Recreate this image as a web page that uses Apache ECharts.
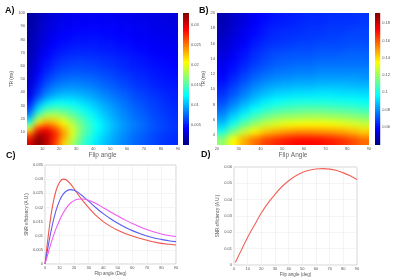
<!DOCTYPE html>
<html>
<head>
<meta charset="utf-8">
<script src="https://cdn.jsdelivr.net/npm/echarts@6/dist/echarts.min.js"></script>
<style>
html, body { margin: 0; padding: 0; background: #fff; }
#wrap { position: relative; width: 393px; height: 279px; overflow: hidden; background: #fff; }
#heat { position: absolute; left: 0; top: 0; width: 393px; height: 279px; filter: blur(3px);
        clip-path: path('M27 13 H178 V145 H27 Z M217 13 H369 V145 H217 Z'); }
#main { position: absolute; left: 0; top: 0; width: 393px; height: 279px; }
</style>
</head>
<body>
<div id="wrap">
  <div id="heat"></div>
  <div id="main"></div>
</div>
<script>
// panel A : flip angle (deg) x TR (ms), values in 1/1000
var flipA = [2.5, 7.5, 12.5, 17.5, 22.5, 27.5, 32.5, 37.5, 42.5, 47.5, 52.5, 57.5, 62.5, 67.5, 72.5, 77.5, 82.5, 87.5];
var trA = [2.5, 7.5, 12.5, 17.5, 22.5, 27.5, 32.5, 37.5, 42.5, 47.5, 52.5, 57.5, 62.5, 67.5, 72.5, 77.5, 82.5, 87.5, 92.5, 97.5];
var snrA = [
  [30, 33, 31, 27, 22, 18, 15, 13, 11.5, 10.3, 9.3, 8.5, 7.8, 7.2, 6.7, 6.2, 5.8, 5.5],
  [27, 32, 31, 28, 24, 19.5, 16, 13.8, 12, 10.7, 9.6, 8.7, 7.9, 7.3, 6.8, 6.3, 5.9, 5.6],
  [20, 28, 29, 26.5, 23, 19.5, 16.5, 14.3, 12.5, 11.2, 10, 9.1, 8.3, 7.7, 7.1, 6.6, 6.2, 5.8],
  [13, 21, 23.5, 22.5, 20.5, 18, 15.8, 14, 12.4, 11.1, 10, 9.1, 8.3, 7.7, 7.1, 6.6, 6.2, 5.8],
  [9, 15.5, 18.5, 18.5, 17.5, 16, 14.5, 13, 11.7, 10.5, 9.5, 8.7, 8, 7.4, 6.9, 6.4, 6, 5.6],
  [6.5, 11.5, 14.5, 15.2, 14.8, 14, 13, 11.9, 10.9, 9.9, 9.1, 8.4, 7.7, 7.1, 6.6, 6.2, 5.8, 5.5],
  [5, 9, 11.5, 12.5, 12.6, 12.2, 11.6, 10.9, 10.1, 9.3, 8.6, 7.9, 7.3, 6.8, 6.4, 6, 5.6, 5.3],
  [3.4, 6.5, 8.8, 10, 10.5, 10.5, 10.2, 9.7, 9.1, 8.5, 7.9, 7.4, 6.9, 6.4, 6, 5.7, 5.4, 5.1],
  [2.9, 5.6, 7.6, 8.7, 9.2, 9.3, 9.1, 8.8, 8.3, 7.8, 7.3, 6.9, 6.4, 6, 5.7, 5.4, 5.1, 4.9],
  [2.5, 4.9, 6.6, 7.6, 8.1, 8.3, 8.2, 8, 7.6, 7.2, 6.8, 6.4, 6, 5.7, 5.4, 5.1, 4.9, 4.7],
  [2.2, 4.3, 5.8, 6.7, 7.2, 7.4, 7.4, 7.2, 7, 6.7, 6.3, 6, 5.7, 5.4, 5.1, 4.9, 4.7, 4.5],
  [2, 3.8, 5.1, 6, 6.5, 6.7, 6.7, 6.6, 6.4, 6.2, 5.9, 5.6, 5.3, 5.1, 4.9, 4.7, 4.5, 4.3],
  [1.8, 3.4, 4.6, 5.4, 5.9, 6.1, 6.2, 6.1, 5.9, 5.7, 5.5, 5.3, 5, 4.8, 4.6, 4.4, 4.3, 4.1],
  [1.6, 3.1, 4.2, 4.9, 5.4, 5.6, 5.7, 5.6, 5.5, 5.4, 5.2, 5, 4.8, 4.6, 4.4, 4.2, 4.1, 3.9],
  [1.5, 2.8, 3.8, 4.5, 4.9, 5.1, 5.2, 5.2, 5.1, 5, 4.8, 4.7, 4.5, 4.3, 4.2, 4, 3.9, 3.8],
  [1.4, 2.6, 3.5, 4.1, 4.5, 4.7, 4.8, 4.8, 4.8, 4.7, 4.6, 4.4, 4.3, 4.1, 4, 3.8, 3.7, 3.6],
  [1.3, 2.4, 3.2, 3.8, 4.2, 4.4, 4.5, 4.5, 4.5, 4.4, 4.3, 4.2, 4.1, 3.9, 3.8, 3.7, 3.6, 3.5],
  [1.2, 2.2, 3, 3.5, 3.9, 4.1, 4.2, 4.2, 4.2, 4.2, 4.1, 4, 3.9, 3.8, 3.7, 3.5, 3.4, 3.3],
  [1.1, 2, 2.8, 3.3, 3.6, 3.8, 3.9, 4, 4, 3.9, 3.9, 3.8, 3.7, 3.6, 3.5, 3.4, 3.3, 3.2],
  [1, 1.9, 2.6, 3.1, 3.4, 3.6, 3.7, 3.8, 3.8, 3.7, 3.7, 3.6, 3.5, 3.4, 3.3, 3.2, 3.1, 3]
];

// panel B : flip angle (deg) x TR (ms), values in 1/1000
var flipB = [22.5, 27.5, 32.5, 37.5, 42.5, 47.5, 52.5, 57.5, 62.5, 67.5, 72.5, 77.5, 82.5, 87.5];
var trB = [3.5, 4.5, 5.5, 6.5, 7.5, 8.5, 9.5, 10.5, 11.5, 12.5, 13.5, 14.5, 15.5, 16.5, 17.5, 18.5, 19.5];
var snrB = [
  [118, 135, 147, 156, 163, 167, 170, 172, 172, 171, 169, 166, 162, 157],
  [100, 115, 127, 136, 143, 147, 150, 152, 152, 151, 150, 148, 145, 141],
  [88, 100, 111, 120, 126, 130, 133, 134, 135, 135, 134, 132, 130, 127],
  [80, 90, 99, 107, 113, 117, 119, 120, 121, 121, 120, 119, 117, 115],
  [74, 82, 90, 97, 102, 106, 108, 109, 110, 110, 109, 108, 107, 105],
  [69, 76, 83, 89, 94, 97, 99, 100, 100, 100, 100, 99, 98, 97],
  [65, 71, 77, 83, 87, 90, 91, 92, 92, 93, 93, 92, 92, 91],
  [62, 67, 73, 78, 82, 84, 85, 86, 86, 87, 87, 87, 86, 86],
  [59, 64, 69, 74, 77, 79, 80, 81, 81, 82, 82, 82, 82, 81],
  [57, 61, 66, 70, 73, 75, 76, 77, 77, 78, 78, 78, 78, 78],
  [55, 59, 63, 67, 70, 72, 73, 74, 74, 75, 75, 75, 75, 75],
  [53, 57, 61, 65, 68, 70, 71, 71, 71, 72, 72, 73, 73, 73],
  [51, 55, 59, 63, 66, 67, 68, 69, 69, 70, 70, 70, 71, 71],
  [50, 54, 57, 61, 64, 65, 66, 67, 67, 68, 68, 69, 69, 69],
  [48, 52, 56, 59, 62, 64, 65, 65, 66, 66, 67, 67, 68, 68],
  [47, 51, 54, 58, 61, 62, 63, 64, 65, 65, 66, 66, 66, 67],
  [46, 50, 53, 57, 59, 61, 62, 63, 64, 64, 65, 65, 65, 66]
];

// colour bar ranges and tick labels
var cbA = [0, 0.033];
var cbB = [0.039, 0.192];
var cbTicksA = [0.005, 0.01, 0.015, 0.02, 0.025, 0.03];
var cbTicksB = [0.06, 0.08, 0.1, 0.12, 0.14, 0.16, 0.18];
var xTicksA = [10, 20, 30, 40, 50, 60, 70, 80, 90];
var yTicksA = [10, 20, 30, 40, 50, 60, 70, 80, 90, 100];
var yTicksB = [4, 6, 8, 10, 12, 14, 16, 18, 20];

// panel C : three curves
var flipC = [0, 2.5, 5, 7.5, 10, 12.5, 15, 17.5, 20, 22.5, 25, 27.5, 30, 35, 40, 45, 50, 55, 60, 65, 70, 75, 80, 85, 90];
var snrRed = [0, 0.0110, 0.0200, 0.0258, 0.0289, 0.0300, 0.0296, 0.0283, 0.0266, 0.0248, 0.0230, 0.0214, 0.0199, 0.0172, 0.0150, 0.0133, 0.0119, 0.0108, 0.0099, 0.0091, 0.0084, 0.0078, 0.0073, 0.0070, 0.0067];
var snrBlue = [0, 0.0072, 0.0137, 0.0188, 0.0224, 0.0247, 0.0259, 0.0263, 0.0261, 0.0254, 0.0244, 0.0233, 0.0222, 0.0199, 0.0178, 0.0160, 0.0144, 0.0130, 0.0118, 0.0108, 0.0099, 0.0092, 0.0087, 0.0082, 0.0079];
var snrMag = [0, 0.0045, 0.0087, 0.0124, 0.0155, 0.0180, 0.0200, 0.0215, 0.0224, 0.0229, 0.0230, 0.0229, 0.0225, 0.0214, 0.0199, 0.0184, 0.0170, 0.0156, 0.0143, 0.0132, 0.0122, 0.0113, 0.0106, 0.0101, 0.0097];

// panel D : one curve
var flipD = [1, 5, 10, 15, 20, 25, 30, 35, 40, 45, 50, 55, 60, 65, 70, 75, 80, 85, 90];
var snrD = [0.0015, 0.0085, 0.0170, 0.0245, 0.0318, 0.0380, 0.0433, 0.0479, 0.0516, 0.0545, 0.0567, 0.0580, 0.0588, 0.0590, 0.0587, 0.0578, 0.0564, 0.0546, 0.0523];

var jet = ['#00007f', '#0000ff', '#007fff', '#00ffff', '#7fff7f', '#ffff00', '#ff7f00', '#ff0000', '#7f0000'];
var jetStops = jet.map(function (c, i) { return { offset: i / (jet.length - 1), color: c }; });

var gA = { left: 27, top: 13, width: 151, height: 132 };
var gB = { left: 217, top: 13, width: 152, height: 132 };
var FONT = '"Liberation Sans", Arial, sans-serif';

function cells(xs, ys, rows) {
  var out = [];
  for (var j = 0; j < ys.length; j++) {
    for (var i = 0; i < xs.length; i++) {
      out.push([xs[i], ys[j], rows[j][i] / 1000]);
    }
  }
  return out;
}

function cellRenderer(xs, ys) {
  var dx = xs[1] - xs[0], dy = ys[1] - ys[0], pad = 14;
  return function (params, api) {
    var x = api.value(0), y = api.value(1);
    var a = api.coord([x - dx / 2, y + dy / 2]);
    var b = api.coord([x + dx / 2, y - dy / 2]);
    var l = a[0], t = a[1], r = b[0], bt = b[1];
    if (x === xs[0]) l -= pad;
    if (x === xs[xs.length - 1]) r += pad;
    if (y === ys[0]) bt += pad;
    if (y === ys[ys.length - 1]) t -= pad;
    return {
      type: 'rect',
      shape: { x: l, y: t, width: r - l + 0.6, height: bt - t + 0.6 },
      style: { fill: api.visual('color') }
    };
  };
}

// heat maps (blurred layer)
var heat = echarts.init(document.getElementById('heat'), null, { renderer: 'canvas' });
heat.setOption({
  animation: false,
  grid: [gA, gB],
  xAxis: [
    { gridIndex: 0, type: 'value', min: 1, max: 90, show: false },
    { gridIndex: 1, type: 'value', min: 20, max: 90, show: false }
  ],
  yAxis: [
    { gridIndex: 0, type: 'value', min: 0, max: 100, show: false },
    { gridIndex: 1, type: 'value', min: 2.7, max: 20, show: false }
  ],
  visualMap: [
    { type: 'continuous', show: false, seriesIndex: 0, dimension: 2, min: cbA[0], max: cbA[1], inRange: { color: jet } },
    { type: 'continuous', show: false, seriesIndex: 1, dimension: 2, min: cbB[0], max: cbB[1], inRange: { color: jet } }
  ],
  series: [
    { type: 'custom', xAxisIndex: 0, yAxisIndex: 0, clip: false, silent: true,
      data: cells(flipA, trA, snrA), renderItem: cellRenderer(flipA, trA) },
    { type: 'custom', xAxisIndex: 1, yAxisIndex: 1, clip: false, silent: true,
      data: cells(flipB, trB, snrB), renderItem: cellRenderer(flipB, trB) }
  ]
});

// axes, colour bars, curves
var lbl = { fontSize: 4, color: '#555', fontFamily: FONT, margin: 2 };
var nameStyle = { fontSize: 6.5, color: '#666', fontFamily: FONT };
var smallName = { fontSize: 4.5, color: '#555', fontFamily: FONT };
var noLine = { show: false };

function colorBar(idx, range) {
  return {
    type: 'custom', xAxisIndex: idx, yAxisIndex: idx, silent: true,
    data: [[0, range[0], range[1]]],
    encode: { x: 0, y: [1, 2] },
    renderItem: function (params, api) {
      var top = api.coord([0, api.value(2)]);
      var bot = api.coord([0, api.value(1)]);
      var cs = params.coordSys;
      return {
        type: 'rect',
        shape: { x: cs.x, y: top[1], width: cs.width, height: bot[1] - top[1] },
        style: { fill: new echarts.graphic.LinearGradient(0, 1, 0, 0, jetStops) }
      };
    }
  };
}

function lineSeries(idx, xs, ys, color) {
  return {
    type: 'line', xAxisIndex: idx, yAxisIndex: idx, showSymbol: false, smooth: 0.3,
    lineStyle: { color: color, width: 1.1 }, itemStyle: { color: color },
    data: xs.map(function (a, i) { return [a, ys[i]]; })
  };
}

var chart = echarts.init(document.getElementById('main'), null, { renderer: 'canvas' });
var option = {
  animation: false,
  backgroundColor: 'transparent',
  grid: [
    gA,
    gB,
    { left: 45, top: 165, width: 131, height: 99, show: true, borderColor: '#bbb', borderWidth: 0.6 },
    { left: 234, top: 167, width: 123, height: 98, show: true, borderColor: '#bbb', borderWidth: 0.6 },
    { left: 183, top: 13, width: 6, height: 132 },
    { left: 375, top: 13, width: 6, height: 132 }
  ],
  xAxis: [
    { gridIndex: 0, type: 'value', min: 1, max: 90, axisLine: noLine, axisTick: noLine, splitLine: noLine,
      axisLabel: Object.assign({ customValues: xTicksA }, lbl),
      name: 'Flip angle', nameLocation: 'middle', nameGap: 7, nameTextStyle: nameStyle },
    { gridIndex: 1, type: 'value', min: 20, max: 90, interval: 10, axisLine: noLine, axisTick: noLine, splitLine: noLine,
      axisLabel: lbl, name: 'Flip Angle', nameLocation: 'middle', nameGap: 7, nameTextStyle: nameStyle },
    { gridIndex: 2, type: 'value', min: 0, max: 90, interval: 10, axisLine: noLine, axisTick: noLine,
      splitLine: { lineStyle: { color: '#ececec', width: 0.6 } },
      axisLabel: lbl, name: 'Flip angle (Deg)', nameLocation: 'middle', nameGap: 5, nameTextStyle: smallName },
    { gridIndex: 3, type: 'value', min: 0, max: 90, interval: 10, axisLine: noLine, axisTick: noLine,
      splitLine: { lineStyle: { color: '#ececec', width: 0.6 } },
      axisLabel: lbl, name: 'Flip angle (deg)', nameLocation: 'middle', nameGap: 5, nameTextStyle: smallName },
    { gridIndex: 4, type: 'value', min: 0, max: 1, show: false },
    { gridIndex: 5, type: 'value', min: 0, max: 1, show: false }
  ],
  yAxis: [
    { gridIndex: 0, type: 'value', min: 0, max: 100, axisLine: noLine, axisTick: noLine, splitLine: noLine,
      axisLabel: Object.assign({ customValues: yTicksA }, lbl),
      name: 'TR (ms)', nameLocation: 'middle', nameRotate: 90, nameGap: 11, nameTextStyle: smallName },
    { gridIndex: 1, type: 'value', min: 2.7, max: 20, axisLine: noLine, axisTick: noLine, splitLine: noLine,
      axisLabel: Object.assign({ customValues: yTicksB }, lbl),
      name: 'TR (ms)', nameLocation: 'middle', nameRotate: 90, nameGap: 8, nameTextStyle: smallName },
    { gridIndex: 2, type: 'value', min: 0, max: 0.035, interval: 0.005, axisLine: noLine, axisTick: noLine,
      splitLine: { lineStyle: { color: '#ececec', width: 0.6 } },
      axisLabel: lbl, name: 'SNR efficiency (A.U.)', nameLocation: 'middle', nameRotate: 90, nameGap: 8, nameTextStyle: smallName },
    { gridIndex: 3, type: 'value', min: 0, max: 0.06, interval: 0.01, axisLine: noLine, axisTick: noLine,
      splitLine: { lineStyle: { color: '#ececec', width: 0.6 } },
      axisLabel: lbl, name: 'SNR efficiency (A.U.)', nameLocation: 'middle', nameRotate: 90, nameGap: 7, nameTextStyle: smallName },
    { gridIndex: 4, type: 'value', position: 'right', min: cbA[0], max: cbA[1], axisLine: noLine, axisTick: noLine, splitLine: noLine,
      axisLabel: Object.assign({ customValues: cbTicksA }, lbl) },
    { gridIndex: 5, type: 'value', position: 'right', min: cbB[0], max: cbB[1], axisLine: noLine, axisTick: noLine, splitLine: noLine,
      axisLabel: Object.assign({ customValues: cbTicksB }, lbl) }
  ],
  graphic: [
    { type: 'text', left: 5, top: 6, style: { text: 'A)', font: 'bold 9px ' + FONT, fill: '#111' } },
    { type: 'text', left: 199, top: 6, style: { text: 'B)', font: 'bold 9px ' + FONT, fill: '#111' } },
    { type: 'text', left: 6, top: 151, style: { text: 'C)', font: 'bold 9px ' + FONT, fill: '#111' } },
    { type: 'text', left: 201, top: 150, style: { text: 'D)', font: 'bold 9px ' + FONT, fill: '#111' } }
  ],
  series: [
    colorBar(4, cbA),
    colorBar(5, cbB),
    lineSeries(2, flipC, snrRed, '#f2554d'),
    lineSeries(2, flipC, snrBlue, '#5a5cf2'),
    lineSeries(2, flipC, snrMag, '#f25af2'),
    lineSeries(3, flipD, snrD, '#f2625a')
  ]
};
chart.setOption(option);
</script>
</body>
</html>
